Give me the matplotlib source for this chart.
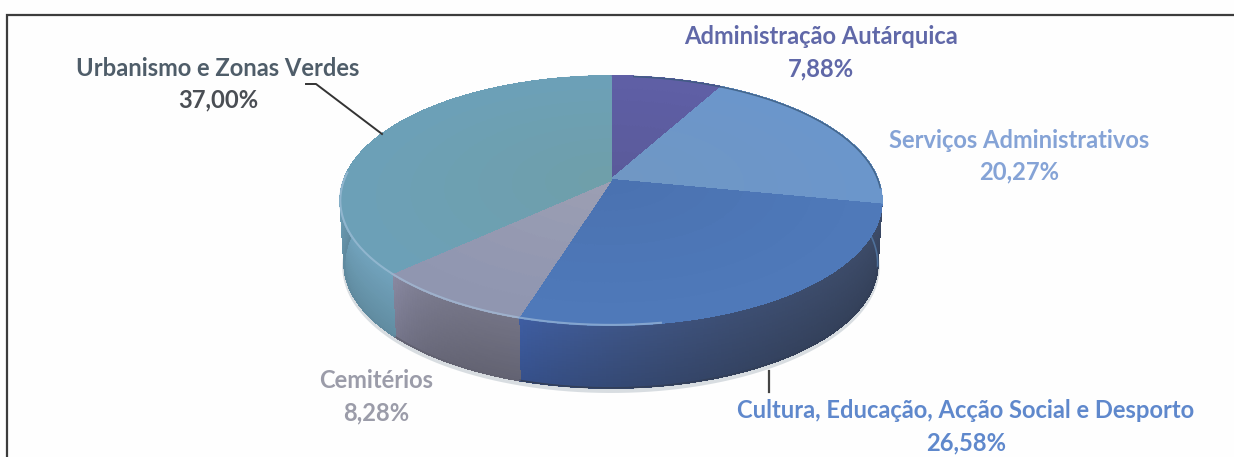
import numpy as np
import matplotlib
matplotlib.use("Agg")
import matplotlib.pyplot as plt
from matplotlib.collections import PolyCollection

# Data
labels = ["Administração Autárquica", "Serviços Administrativos",
          "Cultura, Educação, Acção Social e Desporto", "Cemitérios",
          "Urbanismo e Zonas Verdes"]
values = [7.88, 20.27, 26.58, 8.28, 37.00]

# Colours
top_inner = ["#5a5a9a", "#7097c4", "#4a72b0", "#9c9fb3", "#6f9fa9"]
top_outer = ["#5f5fa6", "#6b96cb", "#4f79ba", "#8f95b0", "#6ca0b8"]
side_start = ["#50508a", "#5a80b0", "#3a4864", "#6f6f80", "#6d9db5"]
side_end = ["#50508a", "#5a80b0", "#3c5a9c", "#85859d", "#72a5bb"]
text_cols = ["#6068a8", "#85a3d6", "#5f88cc", "#9b9ca9", "#4f5d69"]
pct_cols = ["#6068a8", "#85a3d6", "#5f88cc", "#9b9ca9", "#4a4e54"]

# label centre x, name line y
label_pos = [(821, 37), (1019, 140), (966, 411), (376, 381), (218, 68)]

# Pie geometry, pixels
cx, cy = 611, 180
rx, ry = 267, 121
persp = 0.165
depth = 63
shrink = 0.985


def project(r, theta):
    # theta clockwise from the top of the pie, perspective tilt
    u = r * np.sin(theta)
    v = -r * np.cos(theta)
    d = 1 - persp * v
    return cx + rx * u / d, cy + ry * v / d


def mix(c1, c2, t):
    a = np.array(matplotlib.colors.to_rgb(c1))
    b = np.array(matplotlib.colors.to_rgb(c2))
    return a + (b - a) * t


def lower(x, y, f):
    # point f of the way down the side
    return cx + (x - cx) * (1 - (1 - shrink) * f), y + depth * f


fig = plt.figure(figsize=(12.34, 4.57), dpi=100)
ax = fig.add_axes([0, 0, 1, 1])
ax.set_xlim(0, 1234)
ax.set_ylim(457, 0)
ax.axis("off")
fig.patch.set_facecolor("#fefefe")

# frame
ax.plot([7, 7, 1234], [457, 15, 15], color="#3c3c3c", lw=1.6, solid_joinstyle="miter")

ends = np.cumsum(values) / np.sum(values) * 2 * np.pi
starts = np.concatenate([[0], ends[:-1]])

# soft shadow under the pie
t = np.linspace(np.pi / 2, 3 * np.pi / 2, 200)
sx, sy = project(1, t)
sx, sy = lower(sx, sy, 1)
ax.plot(sx, sy + 3, color="#c9d0d6", lw=3, alpha=0.7, zorder=1)

# side of the pie
polys, cols = [], []
n_strata = 24
for i in range(len(values)):
    th = np.linspace(starts[i], ends[i], int(values[i] * 5) + 2)
    for a, b in zip(th[:-1], th[1:]):
        if np.cos((a + b) / 2) > 0.15:
            continue
        xa, ya = project(1, a)
        xb, yb = project(1, b)
        tm = ((a + b) / 2 - starts[i]) / (ends[i] - starts[i])
        base = mix(side_start[i], side_end[i], tm ** 3)
        for k in range(n_strata):
            f0, f1 = k / n_strata, (k + 1) / n_strata
            polys.append([lower(xa, ya, f0), lower(xb, yb, f0),
                          lower(xb, yb, f1), lower(xa, ya, f1)])
            cols.append(base * (1.04 - 0.15 * f0))
cols = np.clip(cols, 0, 1)
ax.add_collection(PolyCollection(polys, facecolors=cols, edgecolors=cols, lw=0.8,
                                 antialiased=False, zorder=2))
# smooth the lower edge
for i in range(len(values)):
    th = np.linspace(starts[i], ends[i], 120)
    th = th[np.cos(th) < 0.15]
    if len(th):
        ex, ey = project(1, th)
        ex, ey = lower(ex, ey, 1)
        ax.plot(ex, ey, color=np.array(matplotlib.colors.to_rgb(side_start[i])) * 0.88,
                lw=1.2, zorder=2.5)

# top of the pie
polys, cols = [], []
radii = np.linspace(0, 1, 9)
for i in range(len(values)):
    th = np.linspace(starts[i], ends[i], int(values[i] * 5) + 2)
    for a, b in zip(th[:-1], th[1:]):
        for r0, r1 in zip(radii[:-1], radii[1:]):
            polys.append([project(r0, a), project(r0, b), project(r1, b), project(r1, a)])
            cols.append(mix(top_inner[i], top_outer[i], (r0 + r1) / 2))
ax.add_collection(PolyCollection(polys, facecolors=cols, edgecolors=cols, lw=0.8,
                                 antialiased=False, zorder=3))
for i in range(len(values)):
    ex, ey = project(1, np.linspace(starts[i], ends[i], 150))
    ax.plot(ex, ey, color=top_outer[i], lw=1.2, zorder=3.5)

# light edge along the front left rim, dark edge along the back right
t = np.linspace(np.pi * 0.95, np.pi * 1.52, 150)
ex, ey = project(1, t)
ax.plot(ex, ey, color="#a9c4de", lw=1.5, alpha=0.6, zorder=4)
t = np.linspace(0.1, np.pi * 0.52, 100)
ex, ey = project(1, t)
ax.plot(ex, ey, color="#3a5a7c", lw=1.1, alpha=0.8, zorder=4)

# leader lines
ax.plot([306, 316, 382], [84, 84, 134], color="#333333", lw=1.4, zorder=5)
ax.plot([769, 769], [371, 392], color="#444444", lw=1.6, zorder=5)

# labels
for i in range(len(values)):
    x, y = label_pos[i]
    pct = f"{values[i]:.2f}".replace(".", ",") + "%"
    ax.text(x, y, labels[i], ha="center", va="center", color=text_cols[i],
            fontsize=17.1, fontweight="bold", family="Lato", zorder=6)
    ax.text(x, y + 32, pct, ha="center", va="center", color=pct_cols[i],
            fontsize=17.1, fontweight="bold", family="Lato", zorder=6)

fig.savefig("out.png", dpi=100, facecolor=fig.get_facecolor())
